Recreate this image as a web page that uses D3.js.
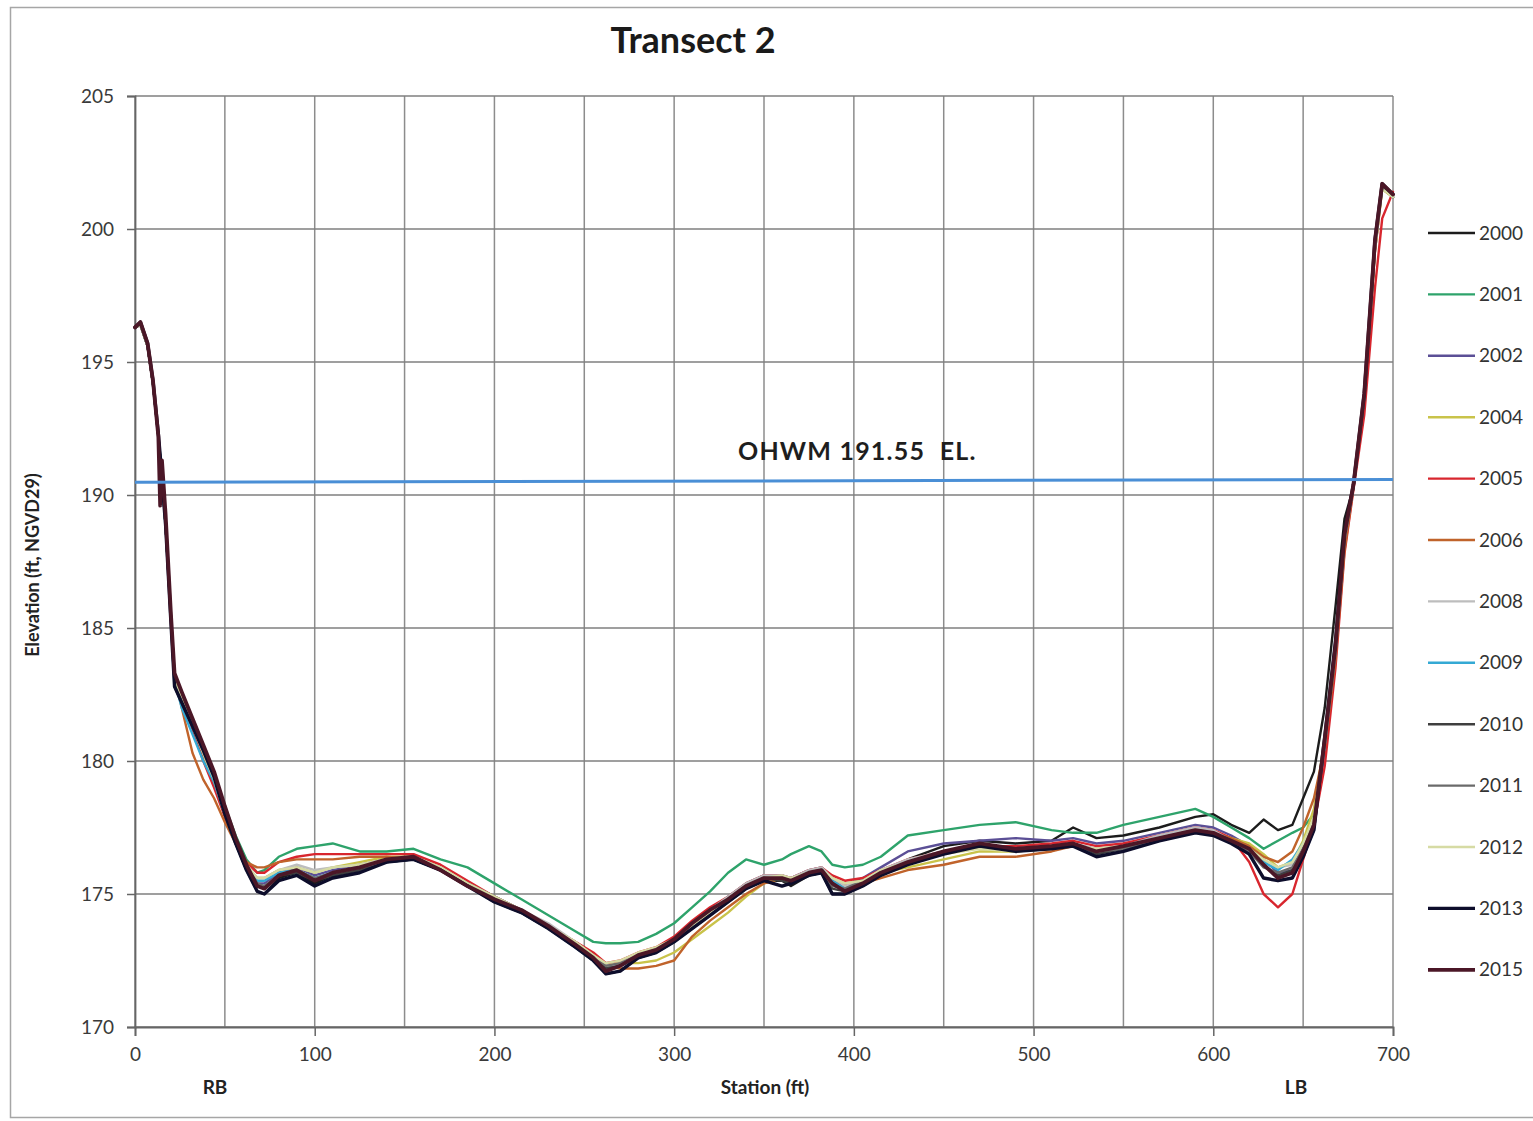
<!DOCTYPE html>
<html><head><meta charset="utf-8">
<script src="https://cdn.jsdelivr.net/npm/d3@7"></script>
<style>
html,body{margin:0;padding:0;background:#fff;}
svg{display:block;font-family:Lato,"Open Sans",sans-serif;}
</style></head>
<body>
<svg id="chart" width="1533" height="1121"></svg>
<script>
// ---------- DATA ----------
const stations = [0,3,7,10,13,14,15,17,20,22,26,32,38,44,50,56,62,68,72,80,90,100,110,125,140,155,170,185,200,215,230,245,255,262,270,280,290,300,310,320,330,340,350,360,365,375,382,388,395,405,415,430,450,470,490,510,522,535,550,570,590,600,610,620,628,636,644,650,656,662,668,673,678,684,690,694,700];

const years = ["2000","2001","2002","2004","2005","2006","2008","2009","2010","2011","2012","2013","2015"];

const e2000 = [196.3,196.4,195.6,194.2,192.3,191.5,190.6,188.9,185.3,182.8,
182.2,181.3,180.4,179.4,178.0,176.9,175.9,175.1,175.0,175.6,
175.8,175.4,175.7,175.9,176.2,176.3,175.9,175.3,174.7,174.3,
173.7,173.0,172.5,172.0,172.1,172.6,172.8,173.2,173.7,174.2,
174.7,175.2,175.5,175.5,175.3,175.7,175.8,175.0,175.0,175.3,
175.7,176.3,176.8,177.0,176.9,177.0,177.5,177.1,177.2,177.5,
177.9,178.0,177.6,177.3,177.8,177.4,177.6,178.6,179.6,182.0,
185.8,189.1,190.3,193.5,199.2,201.6,201.2];
const e2001 = [196.3,196.4,195.6,194.2,192.2,191.4,190.6,188.9,185.4,183.3,
182.5,181.5,180.5,179.5,178.3,177.2,176.3,175.8,175.9,176.4,
176.7,176.8,176.9,176.6,176.6,176.7,176.3,176.0,175.4,174.8,
174.2,173.6,173.2,173.15,173.15,173.2,173.5,173.9,174.5,175.1,
175.8,176.3,176.1,176.3,176.5,176.8,176.6,176.1,176.0,176.1,
176.4,177.2,177.4,177.6,177.7,177.4,177.3,177.3,177.6,177.9,
178.2,177.9,177.5,177.1,176.7,177.0,177.3,177.5,178.0,180.5,
184.0,188.2,190.3,193.8,199.5,201.6,201.2];
const e2002 = [196.3,196.4,195.6,194.2,192.2,191.4,190.6,188.9,185.4,183.1,
182.4,181.4,180.5,179.5,178.2,177.0,176.0,175.4,175.4,175.8,
176.0,175.7,175.9,176.1,176.3,176.4,176.0,175.4,174.9,174.4,
173.8,173.2,172.7,172.3,172.4,172.7,172.9,173.3,173.9,174.4,
174.9,175.4,175.7,175.7,175.6,175.9,176.0,175.6,175.3,175.6,
176.0,176.6,176.9,177.0,177.1,177.0,177.1,176.9,177.0,177.3,
177.6,177.5,177.2,176.8,176.3,175.8,175.9,176.4,177.4,180.4,
184.0,188.3,190.3,193.7,199.4,201.6,201.2];
const e2004 = [196.3,196.4,195.6,194.2,192.2,191.4,190.6,188.9,185.4,183.2,
182.4,181.3,180.2,179.2,178.0,176.9,176.0,175.6,175.6,175.9,
176.0,175.8,176.0,176.2,176.4,176.4,176.0,175.4,174.9,174.4,
173.8,173.2,172.7,172.4,172.4,172.4,172.5,172.8,173.3,173.8,
174.3,174.9,175.4,175.6,175.6,175.8,175.9,175.6,175.4,175.5,
175.8,176.0,176.3,176.6,176.6,176.7,176.8,176.7,176.8,177.1,
177.4,177.3,177.1,176.9,176.5,176.0,176.2,177.0,178.2,180.8,
184.2,188.4,190.4,193.7,199.3,201.5,201.2];
const e2005 = [196.3,196.4,195.6,194.2,192.2,191.4,190.6,188.9,185.4,183.2,
182.4,181.2,180.0,179.0,177.9,176.9,176.2,175.8,175.8,176.2,
176.4,176.5,176.5,176.5,176.5,176.5,176.1,175.5,174.9,174.4,
173.8,173.2,172.8,172.4,172.5,172.8,173.0,173.4,174.0,174.5,
174.9,175.4,175.7,175.7,175.6,175.9,176.0,175.7,175.5,175.6,
175.9,176.3,176.6,176.8,176.8,176.9,177.0,176.8,176.9,177.2,
177.5,177.4,177.1,176.2,175.0,174.5,175.0,176.3,177.6,179.8,
183.5,187.8,190.2,193.0,197.8,200.4,201.4];
const e2006 = [196.3,196.4,195.6,194.2,192.2,191.4,190.6,188.9,185.4,183.2,
182.0,180.3,179.3,178.6,177.7,176.9,176.2,176.0,176.0,176.2,
176.3,176.3,176.3,176.4,176.4,176.3,175.9,175.3,174.8,174.3,
173.7,173.1,172.6,172.3,172.2,172.2,172.3,172.5,173.4,174.0,
174.5,175.0,175.4,175.6,175.5,175.7,175.8,175.5,175.3,175.4,
175.6,175.9,176.1,176.4,176.4,176.6,176.8,176.6,176.8,177.1,
177.3,177.3,177.1,176.8,176.4,176.2,176.6,177.5,178.6,180.5,
183.8,187.9,190.3,193.6,199.2,201.5,201.2];
const e2008 = [196.3,196.4,195.6,194.2,192.2,191.4,190.6,188.9,185.4,183.2,
182.3,181.3,180.3,179.3,178.0,176.9,176.1,175.6,175.6,175.9,
176.1,175.9,176.0,176.1,176.3,176.4,176.0,175.4,174.9,174.4,
173.9,173.2,172.7,172.3,172.4,172.7,172.9,173.3,173.9,174.4,
174.9,175.4,175.7,175.7,175.6,175.9,176.0,175.6,175.3,175.5,
175.9,176.3,176.6,176.8,176.7,176.8,176.9,176.7,176.8,177.2,
177.5,177.4,177.0,176.6,176.2,176.0,176.1,176.8,177.8,180.6,
184.1,188.3,190.3,193.7,199.4,201.6,201.2];
const e2009 = [196.3,196.4,195.6,194.2,192.2,191.4,190.6,188.9,185.4,183.0,
182.0,181.0,180.0,179.2,178.0,176.9,176.0,175.5,175.5,175.8,
175.9,175.6,175.8,176.0,176.2,176.3,175.9,175.3,174.8,174.3,
173.7,173.0,172.5,172.2,172.3,172.6,172.8,173.2,173.8,174.3,
174.8,175.3,175.6,175.6,175.5,175.8,175.9,175.5,175.2,175.4,
175.8,176.2,176.6,176.8,176.7,176.8,176.9,176.6,176.8,177.1,
177.4,177.3,177.0,176.7,176.2,175.9,176.3,176.9,177.6,180.6,
184.2,188.4,190.4,193.7,199.4,201.6,201.2];
const e2010 = [196.3,196.4,195.6,194.2,192.2,191.4,190.6,188.9,185.4,183.1,
182.4,181.4,180.4,179.4,178.1,177.0,176.0,175.3,175.2,175.7,
175.8,175.5,175.7,175.9,176.2,176.3,175.9,175.3,174.8,174.4,
173.8,173.1,172.6,172.2,172.3,172.7,172.9,173.3,173.8,174.3,
174.8,175.3,175.6,175.5,175.4,175.7,175.8,175.2,175.1,175.4,
175.8,176.2,176.6,176.8,176.7,176.8,176.9,176.5,176.7,177.1,
177.4,177.3,177.0,176.7,176.1,175.7,175.9,176.7,177.7,180.7,
184.2,188.4,190.3,193.7,199.5,201.6,201.3];
const e2011 = [196.3,196.4,195.6,194.2,192.2,191.4,190.6,188.9,185.4,183.2,
182.4,181.4,180.4,179.4,178.1,177.0,176.1,175.4,175.3,175.7,
175.9,175.6,175.8,176.0,176.2,176.4,175.9,175.4,174.9,174.4,
173.8,173.1,172.6,172.3,172.4,172.7,172.9,173.3,173.9,174.4,
174.8,175.3,175.6,175.6,175.5,175.8,175.9,175.3,175.2,175.5,
175.8,176.2,176.6,176.8,176.6,176.7,176.9,176.6,176.7,177.1,
177.4,177.3,177.0,176.6,176.0,175.8,176.0,176.7,177.7,180.6,
184.1,188.3,190.3,193.6,199.4,201.6,201.3];
const e2012 = [196.3,196.4,195.6,194.2,192.2,191.4,190.6,188.9,185.4,183.2,
182.3,181.3,180.3,179.3,178.0,177.0,176.1,175.6,175.6,175.9,
176.0,175.8,176.0,176.1,176.3,176.4,176.0,175.4,174.9,174.4,
173.8,173.2,172.7,172.4,172.5,172.8,173.0,173.3,173.8,174.3,
174.8,175.3,175.6,175.7,175.6,175.8,175.9,175.6,175.4,175.5,
175.9,176.2,176.5,176.7,176.6,176.7,176.8,176.7,176.8,177.1,
177.3,177.3,177.0,176.7,176.3,176.0,176.2,176.9,177.9,180.7,
184.2,188.4,190.4,193.7,199.3,201.5,201.2];
const e2013 = [196.3,196.5,195.7,194.3,192.3,191.5,190.6,188.9,185.2,182.8,
182.2,181.3,180.4,179.4,178.0,176.9,175.9,175.1,175.0,175.5,
175.7,175.3,175.6,175.8,176.2,176.3,175.9,175.3,174.7,174.3,
173.7,173.0,172.5,172.0,172.1,172.6,172.8,173.2,173.7,174.2,
174.7,175.2,175.5,175.3,175.4,175.7,175.8,175.0,175.0,175.3,
175.7,176.1,176.5,176.8,176.6,176.7,176.8,176.4,176.6,177.0,
177.3,177.2,176.9,176.5,175.6,175.5,175.6,176.4,177.4,180.9,
184.5,188.6,190.4,193.8,199.6,201.7,201.3];
const e2015 = [196.3,196.5,195.7,194.3,192.2,189.6,191.3,189.3,185.5,183.3,
182.6,181.6,180.6,179.6,178.3,177.1,176.1,175.3,175.2,175.7,
175.9,175.5,175.8,176.0,176.3,176.4,175.9,175.3,174.8,174.4,
173.8,173.1,172.6,172.1,172.3,172.7,172.9,173.3,173.9,174.4,
174.8,175.3,175.6,175.6,175.5,175.8,175.9,175.4,175.1,175.4,
175.8,176.2,176.6,176.9,176.7,176.8,176.9,176.6,176.8,177.1,
177.4,177.3,177.0,176.7,176.1,175.6,175.8,176.6,177.6,180.8,
184.3,188.5,190.4,193.8,199.6,201.7,201.3];

const ohwmStations = [0, 700];
const ohwmElev = [190.48, 190.58];
const ohwmLabel = "OHWM 191.55  EL.";

const xTicks = [0,100,200,300,400,500,600,700];
const xGrid = [0,50,100,150,200,250,300,350,400,450,500,550,600,650,700];
const yTicks = [170,175,180,185,190,195,200,205];

// ---------- STYLE ----------
const elevations = [e2000,e2001,e2002,e2004,e2005,e2006,e2008,e2009,e2010,e2011,e2012,e2013,e2015];
const colors = ["#1c1c1c","#2ea36b","#5b4f96","#c9c34a","#d8262e","#c0632b","#bdbdbd","#34a9d4","#3f3f3f","#6a6a6a","#d6dba4","#0d0d2b","#4b1727"];
const widths = [2.4,2.4,2.4,2.4,2.4,2.4,2.4,2.4,2.4,2.4,2.4,3.4,3.8];

const svg = d3.select("#chart");
const L = 135, T = 96, R = 1393, B = 1027;
const x = d3.scaleLinear().domain([0,700]).range([L,R]);
const y = d3.scaleLinear().domain([170,205]).range([B,T]);

// outer border
svg.append("rect").attr("x",10.5).attr("y",7.5).attr("width",1540).attr("height",1110)
  .attr("fill","none").attr("stroke","#a6a6a6").attr("stroke-width",1.5);

// title
svg.append("text").attr("x",693).attr("y",53).attr("text-anchor","middle")
  .attr("font-size",36).attr("font-weight","bold").attr("fill","#1a1a1a").text("Transect 2");

// grid
const grid = svg.append("g");
grid.selectAll("line.v").data(xGrid).join("line")
  .attr("x1",d=>x(d)).attr("x2",d=>x(d)).attr("y1",T).attr("y2",B)
  .attr("stroke","#8c8c8c").attr("stroke-width",1.5);
grid.selectAll("line.h").data(yTicks).join("line")
  .attr("x1",L).attr("x2",R).attr("y1",d=>y(d)).attr("y2",d=>y(d))
  .attr("stroke","#7f7f7f").attr("stroke-width",1.6);

// axes
const yAxis = svg.append("g").attr("transform",`translate(${L},0)`)
  .call(d3.axisLeft(y).tickValues(yTicks).tickSize(8).tickPadding(13));
const xAxis = svg.append("g").attr("transform",`translate(0,${B})`)
  .call(d3.axisBottom(x).tickValues(xTicks).tickSize(9).tickPadding(12));
[yAxis,xAxis].forEach(a=>{
  a.select(".domain").attr("stroke","#666").attr("stroke-width",1.8);
  a.selectAll(".tick line").attr("stroke","#666").attr("stroke-width",1.5);
  a.selectAll(".tick text").attr("font-family","Lato, sans-serif").attr("font-size",19).attr("fill","#3a3a3a");
});

// series
const line = d3.line().x(d=>x(d[0])).y(d=>y(d[1]));
years.forEach((yr,i)=>{
  const pts = stations.map((s,k)=>[s, elevations[i][k]]);
  svg.append("path").datum(pts).attr("d",line)
    .attr("fill","none").attr("stroke",colors[i]).attr("stroke-width",widths[i])
    .attr("stroke-linejoin","round").attr("stroke-linecap","round");
});

// OHWM line
svg.append("path").datum(ohwmStations.map((s,k)=>[s,ohwmElev[k]])).attr("d",line)
  .attr("fill","none").attr("stroke","#4a8fd6").attr("stroke-width",3);
svg.append("text").attr("x",738).attr("y",460).attr("font-size",25).attr("font-weight","bold")
  .attr("letter-spacing","1.2").attr("fill","#1e1e1e").attr("xml:space","preserve")
  .style("white-space","pre").text(ohwmLabel);

// axis titles
svg.append("text").attr("x",215).attr("y",1094).attr("text-anchor","middle")
  .attr("font-size",19).attr("font-weight","bold").attr("fill","#222").text("RB");
svg.append("text").attr("x",765).attr("y",1094).attr("text-anchor","middle")
  .attr("font-size",19).attr("font-weight","bold").attr("fill","#222").text("Station (ft)");
svg.append("text").attr("x",1296).attr("y",1094).attr("text-anchor","middle")
  .attr("font-size",19).attr("font-weight","bold").attr("fill","#222").text("LB");
svg.append("text").attr("transform","translate(39,565) rotate(-90)").attr("text-anchor","middle")
  .attr("font-size",18).attr("font-weight","bold").attr("fill","#222").text("Elevation (ft, NGVD29)");

// legend
const lg = svg.append("g");
years.forEach((yr,i)=>{
  const cy = 233 + i*61.4;
  lg.append("line").attr("x1",1428).attr("x2",1475).attr("y1",cy).attr("y2",cy)
    .attr("stroke",colors[i]).attr("stroke-width",widths[i]);
  lg.append("text").attr("x",1479).attr("y",cy).attr("dy","0.35em")
    .attr("font-size",19).attr("fill","#333").text(yr);
});
</script>
</body></html>
